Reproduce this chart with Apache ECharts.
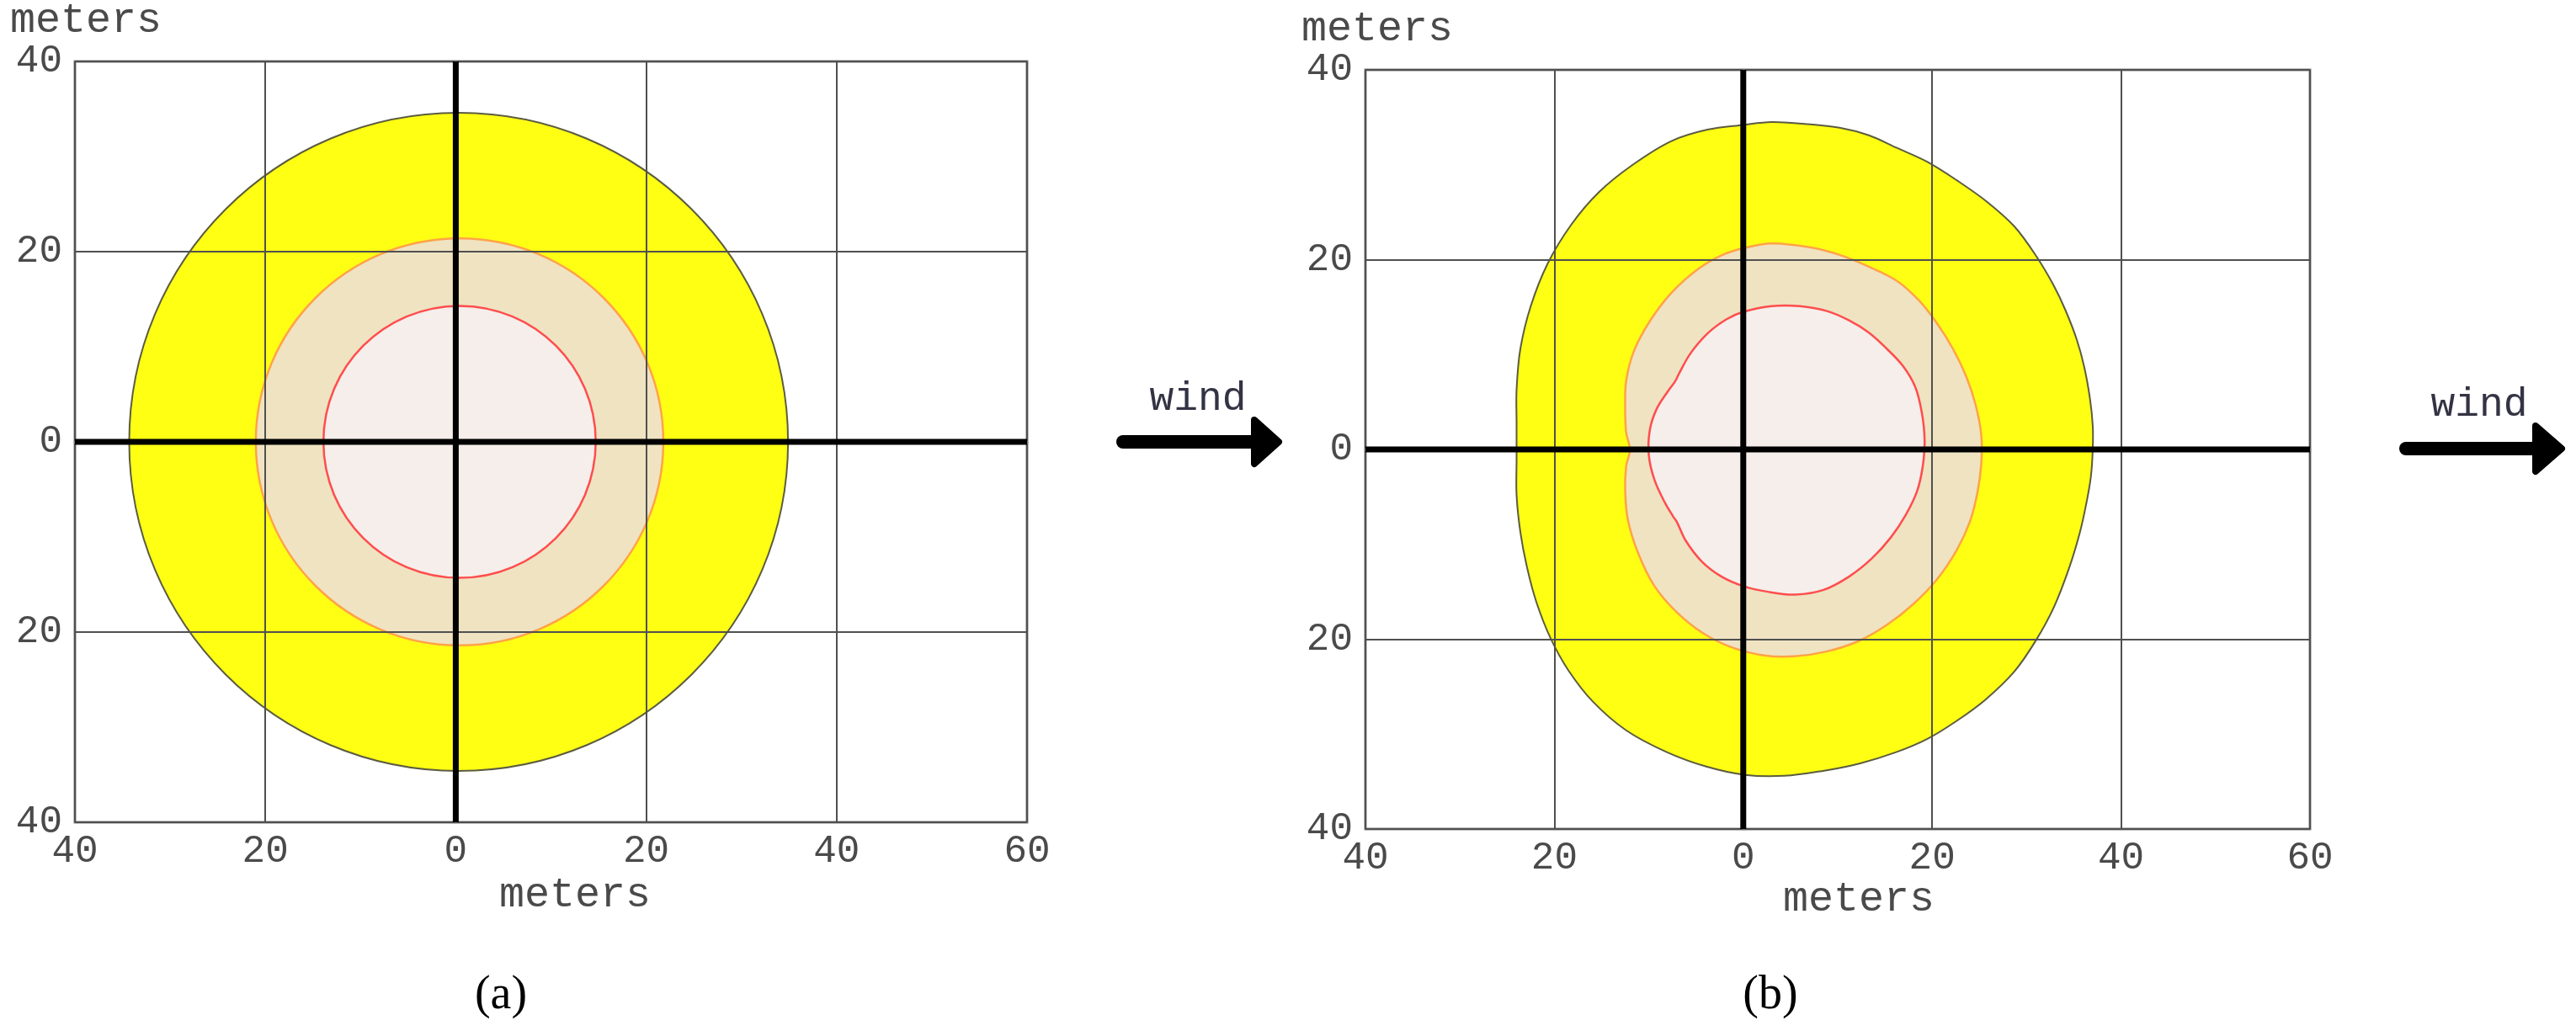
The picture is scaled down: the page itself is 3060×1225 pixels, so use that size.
<!DOCTYPE html>
<html>
<head>
<meta charset="utf-8">
<script src="https://cdn.jsdelivr.net/npm/echarts@6/dist/echarts.min.js"></script>
<style>html,body{margin:0;padding:0;background:#fff;}#c{width:3060px;height:1225px;}</style>
</head>
<body>
<div id="c"></div>
<script>
// ---- tick values and labels ----
const xTicks = [-40, -20, 0, 20, 40, 60];
const xTickLabels = ['40', '20', '0', '20', '40', '60'];
const yTicks = [-40, -20, 0, 20, 40];
const yTickLabels = ['40', '20', '0', '20', '40'];

// ---- panel (a): circular zones [centerX, centerY, radius] in meters ----
const circleOuterA = [[0.3, 0, 34.6]];
const circleMidA = [[0.4, 0, 21.4]];
const circleInnerA = [[0.4, 0, 14.3]];

// ---- panel (b): zone boundaries, [x, y] meters ----
const outerB = [[0,34.2],[3.0,34.5],[6.5,34.3],[10.2,33.9],[13.3,33.1],[16.2,31.8],[19.5,30.3],[22.7,28.3],[25.8,26.1],[28.7,23.5],[31.0,20.4],[32.8,17.4],[34.1,14.7],[35.3,11.6],[36.1,8.7],[36.7,5.4],[37.0,2.5],[37.0,0],[36.8,-2.9],[36.3,-5.8],[35.6,-8.9],[34.5,-12.5],[32.9,-16.6],[31.0,-20.1],[28.7,-23.4],[25.6,-26.4],[22.6,-28.6],[19.5,-30.5],[16.2,-31.9],[12.3,-33.1],[8.3,-33.9],[4.3,-34.4],[0.2,-34.3],[-4.0,-33.4],[-8.1,-31.9],[-12.4,-29.6],[-15.9,-26.6],[-18.5,-23.3],[-20.4,-19.9],[-21.9,-16.1],[-22.9,-12.4],[-23.6,-8.7],[-24.0,-4.8],[-24.0,-1.0],[-24.0,2.8],[-24.0,6.3],[-23.6,10.6],[-22.5,15.1],[-20.7,19.6],[-18.2,23.7],[-15.3,27.1],[-11.7,30.0],[-7.6,32.5],[-3.8,33.7]];
const midB = [[0,21.2],[3.0,21.7],[7.0,21.3],[10.2,20.5],[13.2,19.3],[16.2,17.8],[18.6,15.7],[20.5,13.3],[22.2,10.6],[23.6,7.7],[24.6,4.7],[25.2,1.5],[25.2,-1.5],[24.8,-4.5],[24.0,-7.6],[22.6,-10.6],[20.5,-13.7],[18.0,-16.3],[15.2,-18.5],[12.2,-20.2],[8.8,-21.3],[5.4,-21.8],[2.2,-21.7],[-1.1,-20.9],[-4.2,-19.4],[-7.0,-17.2],[-9.4,-14.4],[-11.1,-11.0],[-12.2,-7.5],[-12.5,-4.4],[-12.4,-1.8],[-12.0,0],[-12.4,1.8],[-12.5,4.4],[-12.4,7.2],[-11.6,10.3],[-9.9,13.5],[-7.6,16.5],[-4.8,19.0],[-2.2,20.5]];
const innerB = [[0,14.5],[3.0,15.1],[6.0,15.1],[8.8,14.6],[11.2,13.6],[13.3,12.3],[15.2,10.6],[16.9,8.8],[18.2,6.6],[18.9,3.9],[19.2,1.0],[19.0,-1.8],[18.4,-4.4],[17.2,-6.9],[15.6,-9.3],[13.6,-11.5],[11.2,-13.4],[8.5,-14.8],[5.5,-15.3],[2.6,-15.0],[0,-14.4],[-2.3,-13.4],[-4.4,-11.8],[-6.1,-9.6],[-7.0,-7.7],[-7.4,-7.1],[-8.3,-5.6],[-9.4,-3.2],[-10.0,-0.6],[-9.9,2.0],[-9.2,4.2],[-8.0,6.1],[-7.2,7.2],[-6.8,8.0],[-5.6,10.1],[-3.8,12.2],[-1.8,13.7]];

// ---- axis lines through the origin ----
const vAxisLine = [[0, -40], [0, 40]];
const hAxisLine = [[-40, 0], [60, 0]];

const MONO = 'Liberation Mono';
const YEL = '#ffff14', YEL_S = '#5c5c40';
const TAN = '#efe3c2', TAN_S = '#ffa347';
const PNK = '#f5eeeb', PNK_S = '#ff4d4d';

function xAxisFor(i) {
  return {
    type: 'value', gridIndex: i, min: -40, max: 60, interval: 20, z: 4,
    axisLine: { show: true, lineStyle: { color: '#808080', width: 3 } },
    axisTick: { show: false },
    splitLine: { show: true, lineStyle: { color: '#505050', width: 2 } },
    axisLabel: {
      margin: 12, fontFamily: MONO, fontSize: 46, color: '#4a4a4a',
      showMinLabel: true, showMaxLabel: true,
      formatter: v => xTickLabels[xTicks.indexOf(v)]
    }
  };
}
function yAxisFor(i) {
  return {
    type: 'value', gridIndex: i, min: -40, max: 40, interval: 20, z: 4,
    axisLine: { show: true, lineStyle: { color: '#808080', width: 3 } },
    axisTick: { show: false },
    splitLine: { show: true, lineStyle: { color: '#505050', width: 2 } },
    axisLabel: {
      margin: 15, fontFamily: MONO, fontSize: 46, color: '#4a4a4a',
      showMinLabel: true, showMaxLabel: true,
      formatter: v => yTickLabels[yTicks.indexOf(v)]
    }
  };
}

function circleSeries(i, data, fill, stroke, lw) {
  return {
    type: 'custom', xAxisIndex: i, yAxisIndex: i, z: 1, silent: true,
    data: data, encode: { x: 0, y: 1 },
    renderItem: function (params, api) {
      const c = api.coord([api.value(0), api.value(1)]);
      const s = api.size([api.value(2), api.value(2)]);
      return { type: 'ellipse', shape: { cx: c[0], cy: c[1], rx: s[0], ry: s[1] },
               style: { fill: fill, stroke: stroke, lineWidth: lw } };
    }
  };
}
function polySeries(i, pts, fill, stroke, lw) {
  return {
    type: 'custom', xAxisIndex: i, yAxisIndex: i, z: 1, silent: true,
    data: pts, encode: { x: 0, y: 1 },
    renderItem: function (params, api) {
      if (params.dataIndex !== 0) return null;
      const p = pts.map(q => api.coord(q));
      return { type: 'polygon', shape: { points: p, smooth: 0.35 },
               style: { fill: fill, stroke: stroke, lineWidth: lw } };
    }
  };
}
function thickLine(i, d) {
  return { type: 'line', xAxisIndex: i, yAxisIndex: i, data: d, symbol: 'none', z: 6,
           silent: true, lineStyle: { color: '#000', width: 7, cap: 'butt' } };
}

function txt(x, y, s, size, family, color) {
  return { type: 'text', x: x, y: y, z: 10,
           style: { text: s, fontSize: size, fontFamily: family, fill: color,
                    align: 'center', verticalAlign: 'middle' } };
}
function arrow(x0, x1, y, hx, tip, hh) {
  return [
    { type: 'line', z: 10, shape: { x1: x0, y1: y, x2: x1, y2: y },
      style: { stroke: '#000', lineWidth: 16, lineCap: 'round' } },
    { type: 'polygon', z: 10, shape: { points: [[hx, y - hh], [tip, y], [hx, y + hh]] },
      style: { fill: '#000', stroke: '#000', lineWidth: 8, lineJoin: 'round' } }
  ];
}

const chart = echarts.init(document.getElementById('c'));
chart.setOption({
  animation: false,
  backgroundColor: '#fff',
  grid: [
    { left: 89, top: 73, width: 1131, height: 904, show: true, borderColor: '#808080', borderWidth: 3, backgroundColor: 'transparent' },
    { left: 1622, top: 83, width: 1122, height: 902, show: true, borderColor: '#808080', borderWidth: 3, backgroundColor: 'transparent' }
  ],
  xAxis: [xAxisFor(0), xAxisFor(1)],
  yAxis: [yAxisFor(0), yAxisFor(1)],
  series: [
    circleSeries(0, circleOuterA, YEL, YEL_S, 2),
    circleSeries(0, circleMidA, TAN, TAN_S, 2.5),
    circleSeries(0, circleInnerA, PNK, PNK_S, 2.5),
    polySeries(1, outerB, YEL, YEL_S, 2),
    polySeries(1, midB, TAN, TAN_S, 2.5),
    polySeries(1, innerB, PNK, PNK_S, 2.5),
    thickLine(0, vAxisLine), thickLine(0, hAxisLine),
    thickLine(1, vAxisLine), thickLine(1, hAxisLine)
  ],
  graphic: [
    txt(102, 25, 'meters', 50, MONO, '#4a4a4a'),
    txt(683, 1064, 'meters', 50, MONO, '#4a4a4a'),
    txt(1636, 35, 'meters', 50, MONO, '#4a4a4a'),
    txt(2208, 1069, 'meters', 50, MONO, '#4a4a4a'),
    txt(1423, 474, 'wind', 48, MONO, '#333344'),
    txt(2945, 481, 'wind', 48, MONO, '#333344'),
    txt(595, 1183, '(a)', 56, 'Liberation Serif', '#000'),
    txt(2103, 1183, '(b)', 56, 'Liberation Serif', '#000')
  ].concat(arrow(1334, 1495, 525, 1490, 1519, 26))
   .concat(arrow(2858, 3018, 533, 3012, 3043, 27))
});
</script>
</body>
</html>
